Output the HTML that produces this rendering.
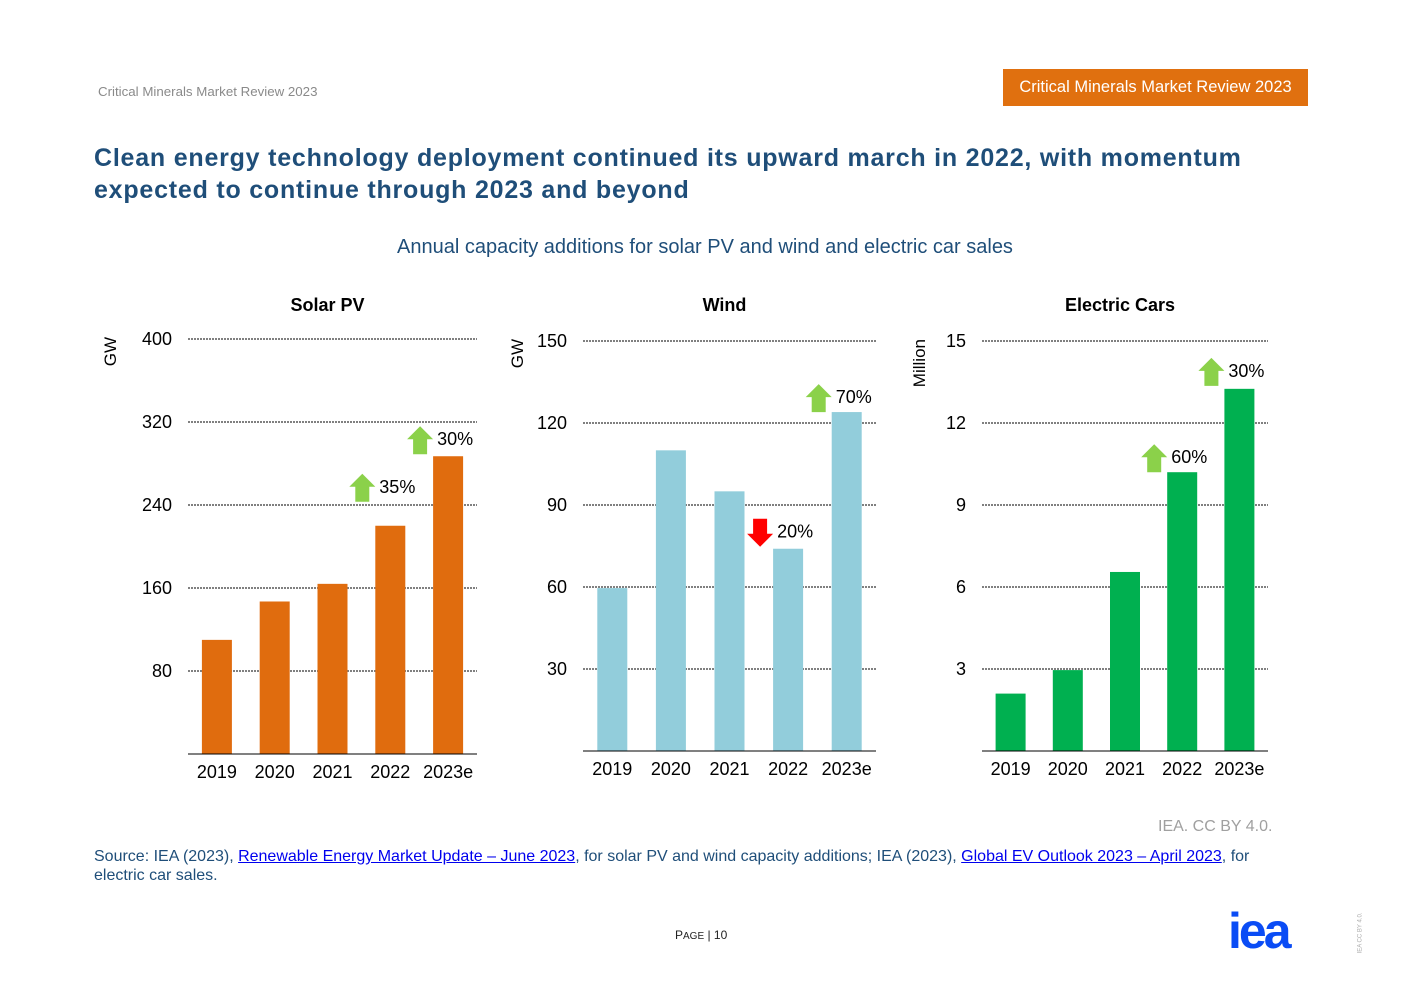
<!DOCTYPE html>
<html><head><meta charset="utf-8"><style>
body{margin:0;background:#fff;font-family:"Liberation Sans",Arial,sans-serif;}
#page{position:relative;width:1403px;height:992px;overflow:hidden;}
.abs{position:absolute;}
</style></head><body>
<div id="page">
<div class="abs" style="left:98px;top:84px;font-size:13.3px;color:#8a8a8a;">Critical Minerals Market Review 2023</div>
<div class="abs" style="left:1003px;top:69px;width:305px;height:37px;background:#e0700f;color:#fff;font-size:16.5px;line-height:37px;text-align:center;">Critical Minerals Market Review 2023</div>
<div class="abs" style="left:94px;top:142px;font-size:25px;font-weight:bold;color:#1f4e79;line-height:32px;width:1200px;letter-spacing:0.78px;">Clean energy technology deployment continued its upward march in 2022, with momentum expected to continue through 2023 and beyond</div>
<div class="abs" style="left:0;width:1410px;top:236px;text-align:center;font-size:20px;color:#1f4e79;">Annual capacity additions for solar PV and wind and electric car sales</div>
<svg class="abs" style="left:0;top:0" width="1403" height="992" id="charts"></svg>
<div class="abs" style="left:1158px;top:818px;font-size:16px;color:#a0a0a0;">IEA. CC BY 4.0.</div>
<div class="abs" style="left:94px;top:847px;width:1175px;font-size:16px;color:#1f4e79;line-height:19px;">Source: IEA (2023), <a style="color:#0000ee;text-decoration:underline;">Renewable Energy Market Update – June 2023</a>, for solar PV and wind capacity additions; IEA (2023), <a style="color:#0000ee;text-decoration:underline;">Global EV Outlook 2023 – April 2023</a>, for electric car sales.</div>
<div class="abs" style="left:675px;top:928px;font-size:12px;color:#222;">P<span style="font-size:10px">AGE</span> | 10</div>
<div class="abs" style="left:1228px;top:903px;font-size:50px;font-weight:bold;color:#0a4cf5;letter-spacing:-3px;line-height:56px;">iea</div>
<div class="abs" style="left:1340px;top:930px;font-size:6px;color:#aaa;transform:rotate(-90deg);">IEA CC BY 4.0.</div>
</div>
<script>
const years = ["2019","2020","2021","2022","2023e"];
const solarValues = [110,147,164,220,287];
const windValues = [59.6,110,95,74,124];
const evValues = [2.1,2.96,6.55,10.2,13.25];
const solarTicks = [80,160,240,320,400];
const windTicks = [30,60,90,120,150];
const evTicks = [3,6,9,12,15];
const solarNotes = [[3,"35%",1,24],[4,"30%",1,2]];
const windNotes = [[3,"20%",-1,2],[4,"70%",1,0]];
const evNotes = [[3,"60%",1,0],[4,"30%",1,3]];
const NS="http://www.w3.org/2000/svg";
const svg=document.getElementById('charts');
function mk(t,a,p){const e=document.createElementNS(NS,t);for(const k in a)e.setAttribute(k,a[k]);(p||svg).appendChild(e);return e;}
function chart(cfg){
  const g=mk('g',{});
  
  
  const max=cfg.ticks[cfg.ticks.length-1];
  const y=v=>cfg.base-(cfg.base-cfg.top)*v/max;
  const step=(cfg.x1-cfg.x0)/years.length;
  const x=i=>cfg.x0+step*(i+0.5);
  const t=mk('text',{x:(cfg.x0+cfg.x1)/2-5,y:311,'text-anchor':'middle','font-size':18,'font-weight':'bold',fill:'#000'},g);
  t.textContent=cfg.title;
  
  
  const u=mk('text',{x:0,y:0,'text-anchor':'end','font-size':17,fill:'#000',transform:`translate(${cfg.ux},${cfg.top-2}) rotate(-90)`},g);
  u.textContent=cfg.unit;
  
  
  cfg.ticks.forEach(v=>{
    const l=mk('line',{x1:cfg.x0,x2:cfg.x1,y1:y(v),y2:y(v),stroke:'#808080','stroke-width':2,'stroke-dasharray':'2 1'},g);
    
    
    const tl=mk('text',{x:cfg.x0-16,y:y(v)+6,'text-anchor':'end','font-size':18,fill:'#000'},g);
    tl.textContent=v;
    
    
  });
  cfg.values.forEach((v,i)=>{
    const r=mk('rect',{x:x(i)-15,y:y(v),width:30,height:cfg.base-y(v),fill:cfg.color},g);
    
    
    const xl=mk('text',{x:x(i),y:cfg.base+24,'text-anchor':'middle','font-size':18,fill:'#000'},g);
    xl.textContent=years[i];
    
    
  });
  mk('line',{x1:cfg.x0,x2:cfg.x1,y1:cfg.base,y2:cfg.base,stroke:'#000','stroke-width':1},g);
  cfg.notes.forEach(([i,txt,dir,gap])=>{
    const ax=x(i)-28;
    const ay=y(cfg.values[i])-gap-28;
    let pts;
    if(dir>0) pts=`${ax},${ay} ${ax+13},${ay+13} ${ax+7},${ay+13} ${ax+7},${ay+28} ${ax-7},${ay+28} ${ax-7},${ay+13} ${ax-13},${ay+13}`;
    else pts=`${ax-7},${ay} ${ax+7},${ay} ${ax+7},${ay+15} ${ax+13},${ay+15} ${ax},${ay+28} ${ax-13},${ay+15} ${ax-7},${ay+15}`;
    const p=mk('polygon',{points:pts,fill:dir>0?'#8bd14a':'#ff0000'},g);
    
    
    const nt=mk('text',{x:ax+17,y:ay+19,'font-size':18,fill:'#000'},g);
    nt.textContent=txt;
    
    
  });
}
chart({name:'solar',title:'Solar PV',unit:'GW',ux:116,values:solarValues,ticks:solarTicks,notes:solarNotes,x0:188,x1:477,top:339,base:754,color:'#e06c0e'});
chart({name:'wind',title:'Wind',unit:'GW',ux:523,values:windValues,ticks:windTicks,notes:windNotes,x0:583,x1:876,top:341,base:751,color:'#92cddb'});
chart({name:'ev',title:'Electric Cars',unit:'Million',ux:925,values:evValues,ticks:evTicks,notes:evNotes,x0:982,x1:1268,top:341,base:751,color:'#00b050'});
</script>
</body></html>
